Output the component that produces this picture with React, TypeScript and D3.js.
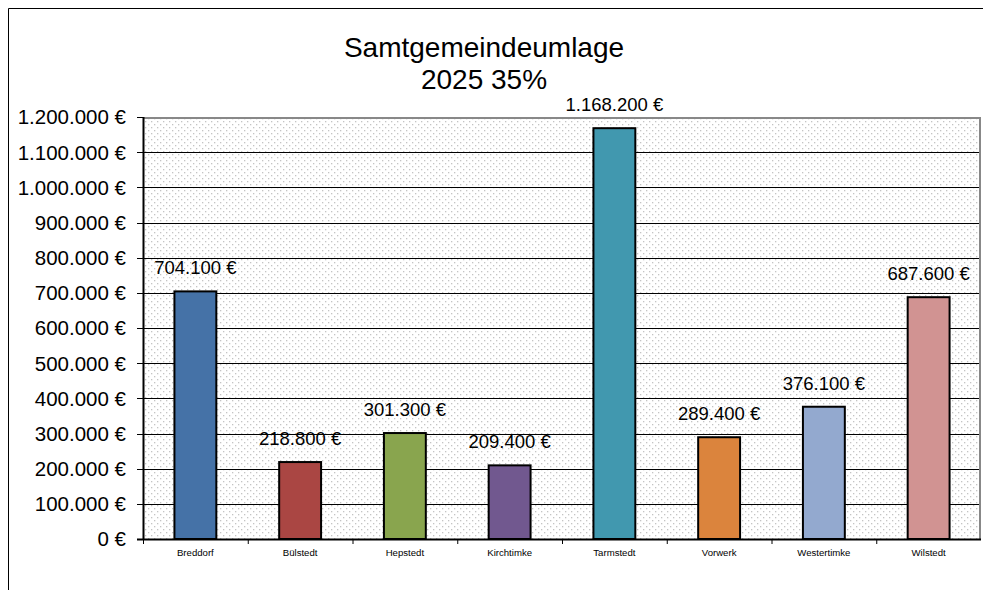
import React from 'react'
import * as d3 from 'd3'

const categories = ['Breddorf', 'Bülstedt', 'Hepstedt', 'Kirchtimke', 'Tarmstedt', 'Vorwerk', 'Westertimke', 'Wilstedt']
const values = [704100, 218800, 301300, 209400, 1168200, 289400, 376100, 687600]
const colors = ['#4572A7', '#AA4643', '#89A54E', '#71588F', '#4198AF', '#DB843D', '#93A9CF', '#D19392']
const yTicks = [0, 100000, 200000, 300000, 400000, 500000, 600000, 700000, 800000, 900000, 1000000, 1100000, 1200000]

const fmt = (v: number) => d3.format(',')(v).replace(/,/g, '.') + ' €'

const App = () => {
    const width = 983, height = 590
    // plot area
    const left = 143, right = 981, top = 117, bottom = 539

    const x = d3.scaleBand().domain(categories).range([left, right]).paddingInner(0.6).paddingOuter(0.3)
    const band = d3.scaleBand().domain(categories).range([left, right])
    const y = d3.scaleLinear().domain([0, 1200000]).range([bottom, top])

    const font = 'Arial, "Liberation Sans", sans-serif'

    return (
        <svg width={width} height={height} style={{ position: 'absolute', left: 0, top: 0, fontFamily: font }}>
            <defs>
                <pattern id="dots" width={6} height={6} patternUnits="userSpaceOnUse">
                    <rect width={6} height={6} fill="#fff" />
                    <rect x={1} y={1} width={1.3} height={1.3} fill="#c4c4c4" />
                    <rect x={4} y={4} width={1.3} height={1.3} fill="#c4c4c4" />
                </pattern>
            </defs>
            <rect width={width} height={height} fill="#fff" />
            {/* outer frame */}
            <line x1={8.5} x2={width} y1={8.5} y2={8.5} stroke="#000" />
            <line x1={8.5} x2={8.5} y1={8.5} y2={height} stroke="#000" />

            {/* title */}
            <text x={484} y={57} textAnchor="middle" fontSize={28}>Samtgemeindeumlage</text>
            <text x={484} y={89} textAnchor="middle" fontSize={28}>2025 35%</text>

            {/* plot background */}
            <rect x={left} y={top} width={right - left} height={bottom - top} fill="url(#dots)" />

            {/* gridlines */}
            {yTicks.slice(1, -1).map(t => (
                <line key={t} x1={left} x2={right} y1={Math.round(y(t)) + 0.5} y2={Math.round(y(t)) + 0.5} stroke="#000" />
            ))}
            <line x1={left} x2={right} y1={top + 1} y2={top + 1} stroke="#888" strokeWidth={2} />
            <line x1={right - 1} x2={right - 1} y1={top} y2={bottom} stroke="#888" strokeWidth={2} />

            {/* y ticks */}
            {yTicks.map(t => (
                <g key={t}>
                    <line x1={left - 6} x2={left} y1={Math.round(y(t)) + 0.5} y2={Math.round(y(t)) + 0.5} stroke="#000" />
                    <text x={126} y={y(t)} dy="0.36em" textAnchor="end" fontSize={20.5}>{fmt(t)}</text>
                </g>
            ))}

            {/* bars */}
            {categories.map((c, i) => (
                <g key={c}>
                    <rect x={x(c)} y={y(values[i])} width={x.bandwidth()} height={bottom - y(values[i])}
                        fill={colors[i]} stroke="#000" strokeWidth={2} />
                    <text x={(x(c) as number) + x.bandwidth() / 2} y={y(values[i]) - 17} textAnchor="middle" fontSize={18.5}>{fmt(values[i])}</text>
                    <text x={(band(c) as number) + band.bandwidth() / 2} y={556} textAnchor="middle" fontSize={9.6}>{c}</text>
                </g>
            ))}

            {/* axes */}
            <line x1={left + 0.5} x2={left + 0.5} y1={top} y2={bottom} stroke="#000" strokeWidth={2} />
            <line x1={left - 6} x2={right} y1={bottom + 0.5} y2={bottom + 0.5} stroke="#000" strokeWidth={2} />
            {categories.map(c => (
                <line key={c} x1={band(c)! + 0.5} x2={band(c)! + 0.5} y1={bottom} y2={bottom + 5} stroke="#000" />
            ))}
        </svg>
    )
}

export default App
